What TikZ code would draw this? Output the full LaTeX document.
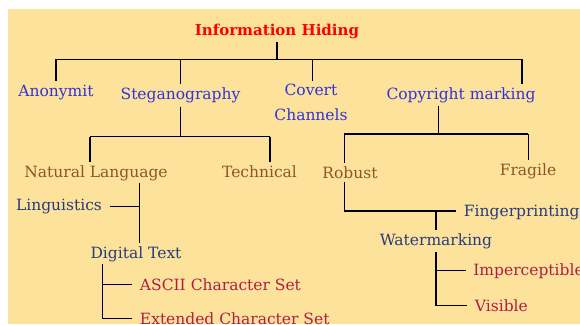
\documentclass[tikz,border=0pt]{standalone}
\usepackage{fontspec}
\setmainfont{DejaVu Serif}
\definecolor{bgcol}{RGB}{252,226,155}
\definecolor{titlered}{RGB}{255,0,0}
\definecolor{topblue}{RGB}{50,50,220}
\definecolor{brownish}{RGB}{139,87,42}
\definecolor{darkblue}{RGB}{40,60,125}
\definecolor{crimson}{RGB}{176,30,70}
\begin{document}
\begin{tikzpicture}[x=1pt,y=-1pt,line width=1.3pt,
  lvl/.style={anchor=base,inner xsep=0pt,inner ysep=3pt,font=\fontsize{15.5}{24.3}\selectfont},
  leaf/.style={lvl,anchor=base west,inner xsep=7pt},
  head/.style={lvl,text=titlered,font=\bfseries\fontsize{15}{18}\selectfont},
  one/.style={text=topblue},
  two/.style={text=brownish},
  three/.style={text=darkblue},
  four/.style={text=crimson}]
\useasboundingbox (0,0) rectangle (580,324);
\fill[bgcol] (8,8.7) rectangle (580,324);
\node[head] (info) at (277,35.5) {Information Hiding};
\node[lvl,one] (anon) at (56,96) {Anonymit};
\node[lvl,one] (stego) at (180.5,99.5) {Steganography};
\node[lvl,one,align=center] (covert) at (311,120) {Covert\\Channels};
\node[lvl,one] (copy) at (461,99) {Copyright marking};
\node[lvl,two] (natlang) at (96,177.3) {Natural Language};
\node[lvl,two] (tech) at (259.5,177.5) {Technical};
\node[lvl,two] (robust) at (350,178.3) {Robust};
\node[lvl,two] (fragile) at (528,175) {Fragile};
\node[lvl,three,inner xsep=7pt] (ling) at (59,210.7) {Linguistics};
\node[lvl,three] (digital) at (136,258.3) {Digital Text};
\node[leaf,three] (finger) at (456.3,216.7) {Fingerprinting};
\node[lvl,three] (water) at (436,245) {Watermarking};
\node[leaf,four] (ascii) at (132.3,290) {ASCII Character Set};
\node[leaf,four] (ext) at (132.3,324) {Extended Character Set};
\node[leaf,four] (imper) at (465.7,275) {Imperceptible};
\node[leaf,four] (visible) at (467.3,311) {Visible};
\coordinate (busL) at (56,59.3);
\coordinate (busR) at (522,59.3);
\coordinate (cvj) at (312.3,59.3);
\coordinate (sbL) at (90,136.7);
\coordinate (sbR) at (270,136.7);
\coordinate (cbM) at (438.3,134);
\coordinate (cbL) at (344.3,134);
\coordinate (cbR) at (528.3,134);
\coordinate (nlj) at (139.3,182.7);
\coordinate (rbj) at (344.3,211);
\coordinate (wj) at (436,211);
\coordinate (dtj) at (102.7,264);
\draw (info) -- (info |- busL);
\draw (busL) -- (busR);
\draw (busL) -- (anon);
\draw (cvj) -- (cvj |- covert.north);
\draw (busR) -- (busR |- copy.north);
\draw (stego |- busL) -- (stego);
\draw (stego) -- (stego |- sbL);
\draw (sbL) -- (sbR);
\draw (sbL) -- (sbL |- natlang.north);
\draw (sbR) -- (sbR |- tech.north);
\draw (cbM |- copy.south) -- (cbM);
\draw (cbL) -- (cbR);
\draw (cbL) -- (cbL |- robust.north);
\draw (cbR) -- (cbR |- fragile.north);
\draw (nlj) -- (nlj |- digital.north);
\draw (ling) -- (ling -| nlj);
\draw (rbj |- robust.south) -- (rbj) -- (finger.west |- rbj);
\draw (wj) -- (wj |- water.north);
\draw (water) |- (visible);
\draw (water |- imper) -- (imper);
\draw (dtj) |- (ext);
\draw (dtj |- ascii) -- (ascii);
\end{tikzpicture}
\end{document}
